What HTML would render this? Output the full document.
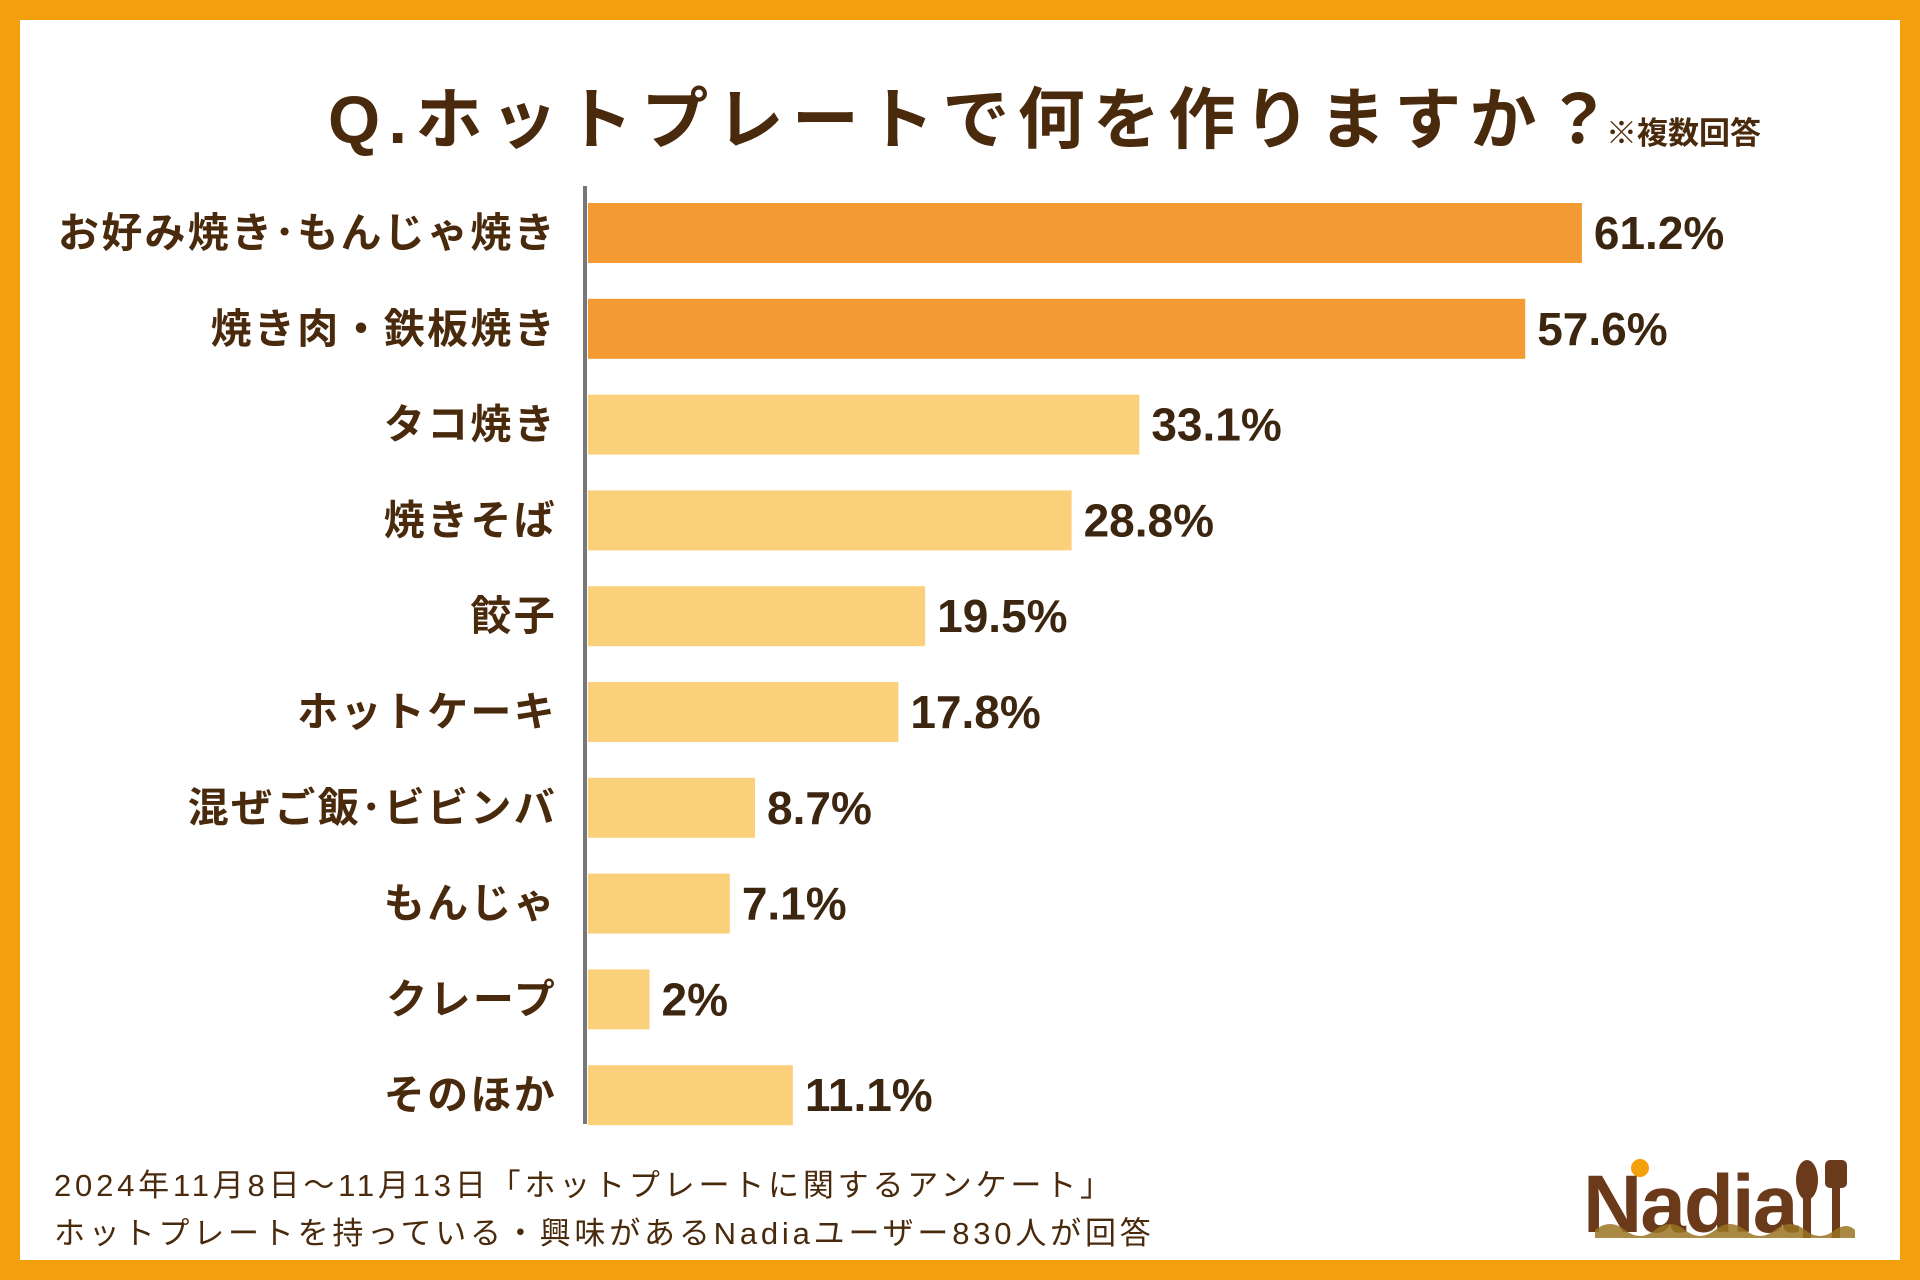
<!DOCTYPE html>
<html><head><meta charset="utf-8"><style>
html,body{margin:0;padding:0}
body{width:1920px;height:1280px;position:relative;overflow:hidden;background:#F4A00C;font-family:"Liberation Sans","Noto Sans CJK JP",sans-serif;color:#4a2a0c}
#panel{position:absolute;left:20px;top:20px;width:1880px;height:1240px;background:#fff}
.t{position:absolute;white-space:nowrap}
</style></head><body>
<div id="panel"></div>
<div class="t" style="left:328px;top:66px;font-size:67px;font-weight:bold;letter-spacing:8.3px">Q.ホットプレートで何を作りますか？</div>
<div class="t" style="left:1606px;top:108px;font-size:31px;font-weight:bold">※複数回答</div>
<svg id="chart" width="1920" height="1280" style="position:absolute;left:0;top:0"></svg>
<div class="t" style="left:54px;top:1160px;font-size:31px;letter-spacing:3.8px">2024年11月8日～11月13日「ホットプレートに関するアンケート」</div>
<div class="t" style="left:54px;top:1208px;font-size:31px;letter-spacing:3.8px">ホットプレートを持っている・興味があるNadiaユーザー830人が回答</div>
<svg width="290" height="100" style="position:absolute;left:1575px;top:1150px">
<circle cx="65" cy="18" r="9" fill="#F4A00C"/>
<text x="8" y="82" font-size="82" font-weight="bold" fill="#6b3a1a" font-family="Liberation Sans, sans-serif" letter-spacing="-2">Nadia</text>
<ellipse cx="232" cy="30" rx="11" ry="20" fill="#6b3a1a"/><rect x="228" y="40" width="8" height="48" fill="#6b3a1a"/>
<rect x="250" y="10" width="22" height="28" rx="5" fill="#6b3a1a"/><rect x="257" y="38" width="8" height="50" fill="#6b3a1a"/>
<path d="M20 80 Q35 68 50 80 Q65 92 80 80 Q95 68 110 80 Q125 92 140 80 Q155 68 170 80 Q185 92 200 80 Q215 68 230 80 Q245 92 260 80 Q272 72 280 80 L280 88 L20 88Z" fill="#9a7422" opacity="0.85"/>
</svg>
<script>
const categories=["お好み焼き･もんじゃ焼き","焼き肉・鉄板焼き","タコ焼き","焼きそば","餃子","ホットケーキ","混ぜご飯･ビビンバ","もんじゃ","クレープ","そのほか"];
const values=[61.2,57.6,33.1,28.8,19.5,17.8,8.7,7.1,2,11.1];
const valueLabels=["61.2%","57.6%","33.1%","28.8%","19.5%","17.8%","8.7%","7.1%","2%","11.1%"];
const highlighted=[true,true,false,false,false,false,false,false,false,false];
const NS="http://www.w3.org/2000/svg";
const svg=document.getElementById('chart');
const x0=588, zero=618, scale=15.75, y0=203, pitch=95.8, bh=60;
const xPos=v=>zero+v*scale;
const yPos=i=>y0+i*pitch;
function mk(t,a){const e=document.createElementNS(NS,t);for(const k in a)e.setAttribute(k,a[k]);svg.appendChild(e);return e;}
values.forEach((v,i)=>{
  const r=mk('rect',{x:x0,y:yPos(i),width:Math.max(4,xPos(v)-x0),height:bh,fill:highlighted[i]?'#F39A32':'#FBD07A'});
  
  
  const l=mk('text',{x:557,y:yPos(i)+bh/2+14,'text-anchor':'end','font-size':41,'font-weight':'bold','letter-spacing':2.3,fill:'#4a2a0c'});
  l.textContent=categories[i];
  
  
  const t=mk('text',{x:xPos(v)+12,y:yPos(i)+bh/2+16,'font-size':46,'font-weight':'bold',fill:'#3d2610'});
  t.textContent=valueLabels[i];
  
  
});
const ax=mk('rect',{x:583,y:186,width:4,height:938,fill:'#777'});


</script>
</body></html>
